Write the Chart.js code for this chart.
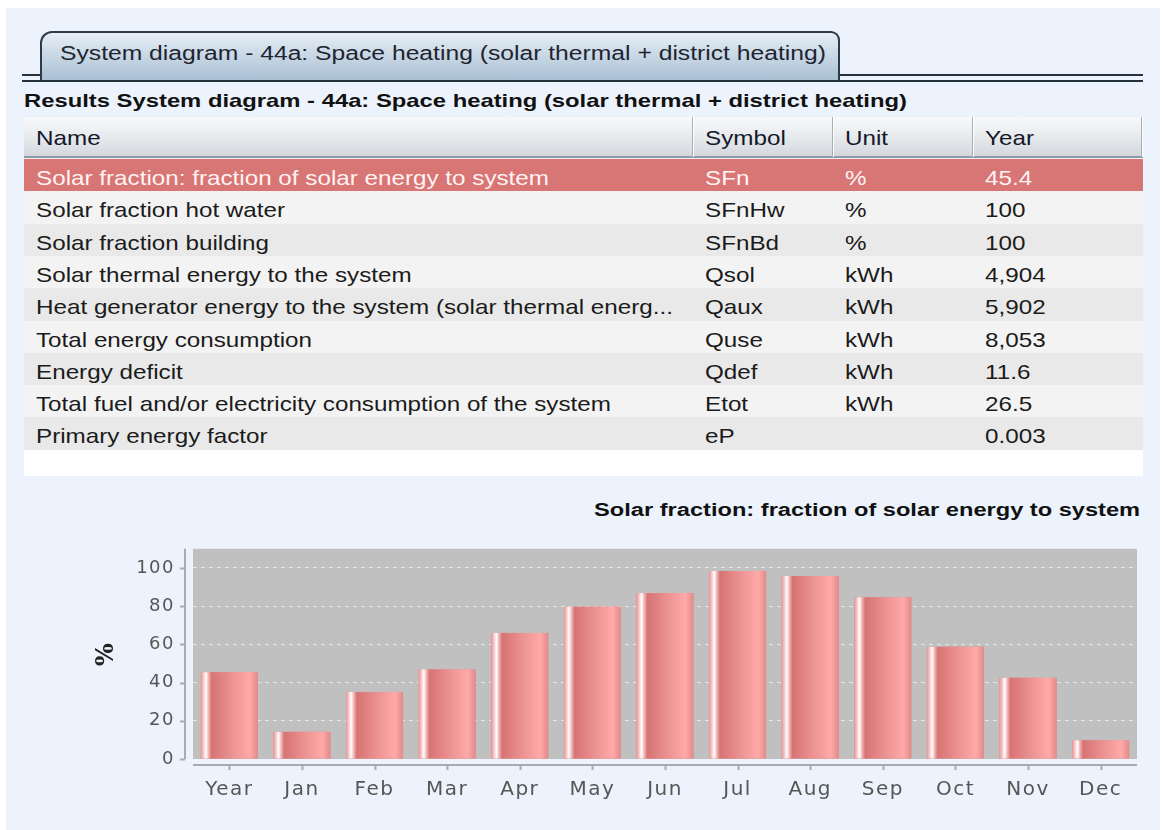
<!DOCTYPE html>
<html>
<head>
<meta charset="utf-8">
<script src="https://cdn.jsdelivr.net/npm/chart.js@4.4.1/dist/chart.umd.min.js"></script>
<style>
body { margin: 0; width: 1162px; height: 830px; background: #fff; position: relative; overflow: hidden;
  font-family: "Liberation Sans", Arial, sans-serif; color: #1b1b1b; }
.abs { position: absolute; }
.sx { display: inline-block; white-space: nowrap; transform-origin: 0 50%; }
#panel { left: 6px; top: 8px; width: 1154px; height: 822px; background: #edf3fc; }
#tab { left: 40px; top: 31px; width: 800px; height: 49px; box-sizing: border-box; border: 2px solid #2c3947;
  border-bottom: none; border-radius: 12px 9px 0 0; background: linear-gradient(#e6eef6, #a9bfd3); }
.rule { background: #27323f; height: 2px; }
#tabText { left: 60px; top: 41px; font-size: 20px; line-height: 24px; color: #1e2530; }
#resTitle { left: 24px; top: 89px; font-size: 19px; line-height: 24px; font-weight: bold; color: #111; }
#head { left: 24px; top: 117px; width: 1119px; height: 41px; box-sizing: border-box;
  background: linear-gradient(#f8f9fb, #e6e9ec 55%, #d3d7dc); border-bottom: 2px solid #8f99a4; }
.sep { width: 2px; background: linear-gradient(90deg, #a5adb6 50%, #ffffff 50%); }
.cell { font-size: 21px; line-height: 32px; }
#filler { left: 24px; top: 450px; width: 1119px; height: 26px; background: #fff; }
#chartTitle { right: 22px; top: 498px; font-size: 18px; line-height: 24px; font-weight: bold; color: #111; }
#chartTitle .sx { transform-origin: 100% 50%; }
#chartBox { left: 0; top: 520px; width: 1162px; height: 310px; }
</style>
</head>
<body>
<div id="panel" class="abs"></div>
<div class="abs rule" style="left:22px;top:74px;width:20px;"></div>
<div class="abs rule" style="left:840px;top:74px;width:303px;"></div>
<div id="tab" class="abs"></div>
<div class="abs rule" style="left:22px;top:80px;width:1121px;"></div>
<div id="tabText" class="abs"><span class="sx" data-w="766">System diagram - 44a: Space heating (solar thermal + district heating)</span></div>
<div id="resTitle" class="abs"><span class="sx" data-w="883">Results System diagram - 44a: Space heating (solar thermal + district heating)</span></div>
<div id="table"></div>
<div id="filler" class="abs"></div>
<div id="chartTitle" class="abs"><span class="sx" data-w="546">Solar fraction: fraction of solar energy to system</span></div>
<div id="chartBox" class="abs"><canvas id="chart"></canvas></div>

<script>
// table data
const headers = ['Name', 'Symbol', 'Unit', 'Year'];
const names = [
  'Solar fraction: fraction of solar energy to system',
  'Solar fraction hot water',
  'Solar fraction building',
  'Solar thermal energy to the system',
  'Heat generator energy to the system (solar thermal energ...',
  'Total energy consumption',
  'Energy deficit',
  'Total fuel and/or electricity consumption of the system',
  'Primary energy factor'
];
const symbols = ['SFn', 'SFnHw', 'SFnBd', 'Qsol', 'Qaux', 'Quse', 'Qdef', 'Etot', 'eP'];
const units = ['%', '%', '%', 'kWh', 'kWh', 'kWh', 'kWh', 'kWh', ''];
const yearValues = ['45.4', '100', '100', '4,904', '5,902', '8,053', '11.6', '26.5', '0.003'];

// chart data
const months = ['Year', 'Jan', 'Feb', 'Mar', 'Apr', 'May', 'Jun', 'Jul', 'Aug', 'Sep', 'Oct', 'Nov', 'Dec'];
const solarFraction = [45.4, 14.2, 35.1, 46.9, 66.0, 79.7, 86.8, 98.4, 95.8, 84.6, 58.7, 42.5, 9.8];
const yTickValues = [0, 20, 40, 60, 80, 100];
const axisTitle = '%';

// build the table
const colLeft = [24, 693, 833, 973];
const tableRight = 1143;
const table = document.getElementById('table');

function addDiv(style, cls, html) {
  const d = document.createElement('div');
  d.className = 'abs ' + (cls || '');
  d.style.cssText = style;
  if (html !== undefined) d.innerHTML = html;
  table.appendChild(d);
  return d;
}

const head = document.createElement('div');
head.id = 'head';
head.className = 'abs';
table.appendChild(head);
headers.forEach((h, c) => {
  addDiv(`left:${colLeft[c] + 12}px;top:122px;color:#15182a;`, 'cell', `<span class="sx tc">${h}</span>`);
  if (c > 0) addDiv(`left:${colLeft[c] - 1}px;top:117px;height:40px;`, 'sep');
});
addDiv(`left:${tableRight - 2}px;top:117px;height:40px;`, 'sep');

names.forEach((n, i) => {
  const top = Math.round(159 + i * 32.3);
  const next = Math.round(159 + (i + 1) * 32.3);
  const bg = i === 0 ? '#d87575' : (i % 2 ? '#f3f3f3' : '#e9e9e9');
  const color = i === 0 ? '#fff3f3' : '#1b1b1b';
  addDiv(`left:24px;top:${top}px;width:1119px;height:${next - top}px;background:${bg};`);
  [n, symbols[i], units[i], yearValues[i]].forEach((t, c) => {
    addDiv(`left:${colLeft[c] + 12}px;top:${top + 3}px;color:${color};`, 'cell', `<span class="sx tc">${t}</span>`);
  });
});

// stretch text to match the wide rendering of the original
function fitText() {
  document.querySelectorAll('.sx[data-w]').forEach(el => {
    el.style.transform = 'none';
    const w = el.getBoundingClientRect().width;
    el.style.transform = `scaleX(${el.dataset.w / w})`;
  });
  const ref = document.querySelectorAll('.tc')[4];
  ref.style.transform = 'none';
  const k = 513 / ref.getBoundingClientRect().width;
  document.querySelectorAll('.tc').forEach(el => { el.style.transform = `scaleX(${k})`; });
}
fitText();

// bar shading, plot background and offset axes
const plotDecor = {
  id: 'plotDecor',
  beforeDraw(chart) {
    const { ctx, chartArea: a } = chart;
    ctx.letterSpacing = '1.5px';
    ctx.save();
    ctx.fillStyle = '#c0c0c0';
    ctx.fillRect(a.left, a.top, a.right - a.left, a.bottom - a.top);
    ctx.restore();
  },
  afterDatasetsDraw(chart) {
    const ctx = chart.ctx;
    chart.getDatasetMeta(0).data.forEach(bar => {
      const { x, y, base, width } = bar.getProps(['x', 'y', 'base', 'width'], true);
      const l = x - width / 2;
      const g = ctx.createLinearGradient(l, 0, l + width, 0);
      g.addColorStop(0, '#e99595');
      g.addColorStop(0.05, '#f6cccc');
      g.addColorStop(0.09, '#ffffff');
      g.addColorStop(0.14, '#efb0b0');
      g.addColorStop(0.19, '#d77373');
      g.addColorStop(0.55, '#ec9292');
      g.addColorStop(0.86, '#ffa9a9');
      g.addColorStop(1, '#e08a8a');
      ctx.save();
      ctx.fillStyle = g;
      ctx.fillRect(l, y, width, base - y);
      ctx.restore();
    });
  },
  afterDraw(chart) {
    const { ctx, chartArea: a, scales } = chart;
    ctx.save();
    ctx.strokeStyle = '#a4acb5';
    ctx.lineWidth = 2;
    ctx.beginPath();
    ctx.moveTo(a.left - 8, a.top);
    ctx.lineTo(a.left - 8, a.bottom);
    scales.y.ticks.forEach(t => {
      const py = Math.round(scales.y.getPixelForValue(t.value)) + 0.5;
      ctx.moveTo(a.left - 13, py);
      ctx.lineTo(a.left - 8, py);
    });
    ctx.moveTo(a.left, a.bottom + 6);
    ctx.lineTo(a.right, a.bottom + 6);
    scales.x.ticks.forEach((t, i) => {
      const px = Math.round(scales.x.getPixelForTick(i)) + 0.5;
      ctx.moveTo(px, a.bottom + 6);
      ctx.lineTo(px, a.bottom + 11);
    });
    ctx.stroke();
    ctx.restore();
  }
};

new Chart(document.getElementById('chart'), {
  type: 'bar',
  data: {
    labels: months,
    datasets: [{
      data: solarFraction,
      backgroundColor: '#e88a8a',
      borderWidth: 0,
      barPercentage: 0.785,
      categoryPercentage: 1
    }]
  },
  options: {
    responsive: true,
    maintainAspectRatio: false,
    animation: false,
    layout: { padding: { left: 0, right: 25, top: 28, bottom: 0 } },
    plugins: { legend: { display: false }, tooltip: { enabled: false } },
    scales: {
      x: {
        grid: { display: false },
        border: { display: false },
        ticks: { color: '#565656', padding: 11, font: { family: 'DejaVu Sans', size: 20 }, maxRotation: 0 },
        afterFit(s) { s.height = 71; }
      },
      y: {
        min: 0,
        max: 110,
        afterBuildTicks(s) { s.ticks = yTickValues.map(v => ({ value: v })); },
        grid: {
          drawTicks: false,
          lineWidth: 1,
          color: c => (c.tick && c.tick.value === 0) ? 'rgba(0,0,0,0)' : '#e6e6e6'
        },
        border: { display: false, dash: [4, 4] },
        ticks: { color: '#565656', padding: 18, font: { family: 'DejaVu Sans', size: 18 } },
        title: {
          display: true,
          text: axisTitle,
          color: '#222',
          font: { family: 'DejaVu Serif', weight: 'bold', size: 24 },
          padding: { top: 92, bottom: 0 }
        },
        afterFit(s) { s.width = 193; }
      }
    }
  },
  plugins: [plotDecor]
});
</script>
</body>
</html>
